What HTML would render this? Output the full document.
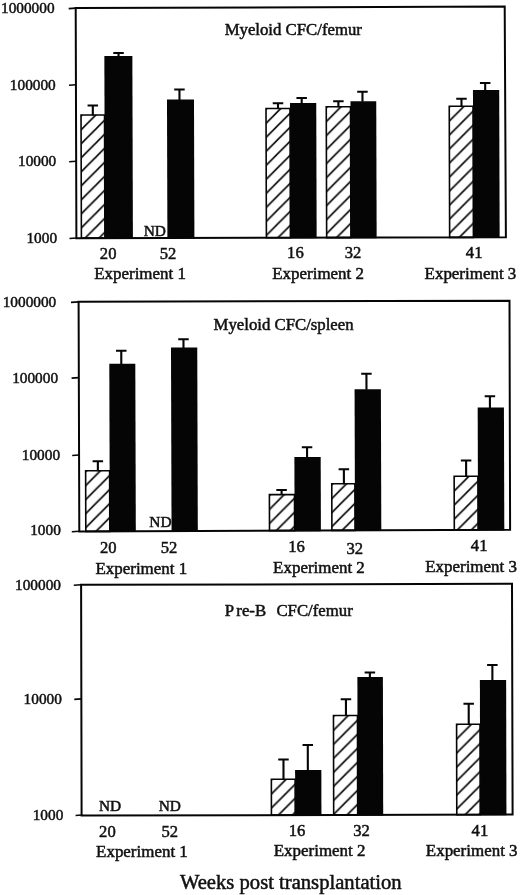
<!DOCTYPE html>
<html><head><meta charset="utf-8"><title>Figure</title>
<style>html,body{margin:0;padding:0;background:#fff;}svg{display:block}text{font-family:"Liberation Serif",serif;fill:#111;stroke:#111;stroke-width:0.5px;}svg{filter:grayscale(1)}</style>
</head><body>
<svg width="520" height="895" viewBox="0 0 520 895">
<rect width="520" height="895" fill="#fff"/>
<g>
<defs>
<pattern id="h0" width="14" height="14" patternUnits="userSpaceOnUse" patternTransform="translate(81.00,115.80)"><rect width="14" height="14" fill="#fff"/><path d="M-2 16L16 -2M-9 9L9 -9M5 23L23 5" stroke="#050505" stroke-width="1.7" fill="none"/></pattern>
<pattern id="h1" width="14" height="14" patternUnits="userSpaceOnUse" patternTransform="translate(266.00,109.30)"><rect width="14" height="14" fill="#fff"/><path d="M-2 16L16 -2M-9 9L9 -9M5 23L23 5" stroke="#050505" stroke-width="1.7" fill="none"/></pattern>
<pattern id="h2" width="14" height="14" patternUnits="userSpaceOnUse" patternTransform="translate(326.25,107.55)"><rect width="14" height="14" fill="#fff"/><path d="M-2 16L16 -2M-9 9L9 -9M5 23L23 5" stroke="#050505" stroke-width="1.7" fill="none"/></pattern>
<pattern id="h3" width="14" height="14" patternUnits="userSpaceOnUse" patternTransform="translate(449.25,107.05)"><rect width="14" height="14" fill="#fff"/><path d="M-2 16L16 -2M-9 9L9 -9M5 23L23 5" stroke="#050505" stroke-width="1.7" fill="none"/></pattern>
<pattern id="h4" width="14" height="14" patternUnits="userSpaceOnUse" patternTransform="translate(85.50,471.55)"><rect width="14" height="14" fill="#fff"/><path d="M-2 16L16 -2M-9 9L9 -9M5 23L23 5" stroke="#050505" stroke-width="1.7" fill="none"/></pattern>
<pattern id="h5" width="14" height="14" patternUnits="userSpaceOnUse" patternTransform="translate(269.20,495.40)"><rect width="14" height="14" fill="#fff"/><path d="M-2 16L16 -2M-9 9L9 -9M5 23L23 5" stroke="#050505" stroke-width="1.7" fill="none"/></pattern>
<pattern id="h6" width="14" height="14" patternUnits="userSpaceOnUse" patternTransform="translate(331.60,484.55)"><rect width="14" height="14" fill="#fff"/><path d="M-2 16L16 -2M-9 9L9 -9M5 23L23 5" stroke="#050505" stroke-width="1.7" fill="none"/></pattern>
<pattern id="h7" width="14" height="14" patternUnits="userSpaceOnUse" patternTransform="translate(454.00,477.05)"><rect width="14" height="14" fill="#fff"/><path d="M-2 16L16 -2M-9 9L9 -9M5 23L23 5" stroke="#050505" stroke-width="1.7" fill="none"/></pattern>
<pattern id="h8" width="14" height="14" patternUnits="userSpaceOnUse" patternTransform="translate(271.25,780.05)"><rect width="14" height="14" fill="#fff"/><path d="M-2 16L16 -2M-9 9L9 -9M5 23L23 5" stroke="#050505" stroke-width="1.7" fill="none"/></pattern>
<pattern id="h9" width="14" height="14" patternUnits="userSpaceOnUse" patternTransform="translate(333.50,716.30)"><rect width="14" height="14" fill="#fff"/><path d="M-2 16L16 -2M-9 9L9 -9M5 23L23 5" stroke="#050505" stroke-width="1.7" fill="none"/></pattern>
<pattern id="h10" width="14" height="14" patternUnits="userSpaceOnUse" patternTransform="translate(456.60,725.05)"><rect width="14" height="14" fill="#fff"/><path d="M-2 16L16 -2M-9 9L9 -9M5 23L23 5" stroke="#050505" stroke-width="1.7" fill="none"/></pattern>
</defs>
<g transform="matrix(1 0 0.00304 1 -0.319 0)">
<rect x="81.00" y="115.00" width="23.50" height="123.17" fill="url(#h0)" stroke="#050505" stroke-width="1.6"/>
<path d="M87.55 105.50H98.05M92.80 105.50V115.50" stroke="#050505" stroke-width="2.1" fill="none"/>
<rect x="104.50" y="56.00" width="28.00" height="182.71" fill="#050505"/>
<path d="M113.45 53.00H123.95M118.70 53.00V56.50" stroke="#050505" stroke-width="2.1" fill="none"/>
<rect x="167.00" y="99.50" width="27.00" height="139.08" fill="#050505"/>
<path d="M174.25 89.50H184.75M179.50 89.50V100.00" stroke="#050505" stroke-width="2.1" fill="none"/>
<rect x="266.00" y="108.50" width="24.00" height="129.28" fill="url(#h1)" stroke="#050505" stroke-width="1.6"/>
<path d="M272.75 103.30H283.25M278.00 103.30V109.00" stroke="#050505" stroke-width="2.1" fill="none"/>
<rect x="290.00" y="103.00" width="26.25" height="135.32" fill="#050505"/>
<path d="M296.45 98.00H306.95M301.70 98.00V103.50" stroke="#050505" stroke-width="2.1" fill="none"/>
<rect x="326.25" y="106.75" width="24.25" height="130.90" fill="url(#h2)" stroke="#050505" stroke-width="1.6"/>
<path d="M333.15 101.25H343.65M338.40 101.25V107.25" stroke="#050505" stroke-width="2.1" fill="none"/>
<rect x="350.50" y="101.25" width="25.75" height="136.95" fill="#050505"/>
<path d="M357.25 91.75H367.75M362.50 91.75V101.75" stroke="#050505" stroke-width="2.1" fill="none"/>
<rect x="449.25" y="106.25" width="23.75" height="131.14" fill="url(#h3)" stroke="#050505" stroke-width="1.6"/>
<path d="M456.25 98.75H466.75M461.50 98.75V106.75" stroke="#050505" stroke-width="2.1" fill="none"/>
<rect x="473.00" y="90.00" width="26.25" height="147.94" fill="#050505"/>
<path d="M480.00 83.00H490.50M485.25 83.00V90.50" stroke="#050505" stroke-width="2.1" fill="none"/>
</g>
<path d="M75.70 8.10L504.70 6.60L505.90 237.30L76.40 238.20Z" fill="none" stroke="#050505" stroke-width="2.0" stroke-linejoin="miter"/>
<line x1="68.70" y1="8.60" x2="75.70" y2="8.10" stroke="#050505" stroke-width="1.6"/>
<line x1="69.00" y1="85.30" x2="75.93" y2="84.80" stroke="#050505" stroke-width="1.6"/>
<line x1="69.20" y1="161.70" x2="76.17" y2="161.20" stroke="#050505" stroke-width="1.6"/>
<line x1="69.50" y1="238.50" x2="76.40" y2="238.00" stroke="#050505" stroke-width="1.6"/>
<g transform="matrix(1 0 0.00305 1 -1.310 0)">
<rect x="85.50" y="470.75" width="24.00" height="60.67" fill="url(#h4)" stroke="#050505" stroke-width="1.6"/>
<path d="M92.50 461.25H103.00M97.75 461.25V471.25" stroke="#050505" stroke-width="2.1" fill="none"/>
<rect x="109.50" y="363.75" width="26.00" height="168.17" fill="#050505"/>
<path d="M116.25 350.75H126.75M121.50 350.75V364.25" stroke="#050505" stroke-width="2.1" fill="none"/>
<rect x="171.25" y="347.50" width="26.25" height="184.16" fill="#050505"/>
<path d="M178.50 339.25H189.00M183.75 339.25V348.00" stroke="#050505" stroke-width="2.1" fill="none"/>
<rect x="269.20" y="494.60" width="25.10" height="36.05" fill="url(#h5)" stroke="#050505" stroke-width="1.6"/>
<path d="M276.15 490.00H286.65M281.40 490.00V495.10" stroke="#050505" stroke-width="2.1" fill="none"/>
<rect x="294.30" y="456.90" width="26.30" height="74.25" fill="#050505"/>
<path d="M301.75 447.25H312.25M307.00 447.25V457.40" stroke="#050505" stroke-width="2.1" fill="none"/>
<rect x="331.60" y="483.75" width="23.10" height="46.65" fill="url(#h6)" stroke="#050505" stroke-width="1.6"/>
<path d="M338.50 469.25H349.00M343.75 469.25V484.25" stroke="#050505" stroke-width="2.1" fill="none"/>
<rect x="354.70" y="389.25" width="26.30" height="141.64" fill="#050505"/>
<path d="M361.35 373.75H371.85M366.60 373.75V389.75" stroke="#050505" stroke-width="2.1" fill="none"/>
<rect x="454.00" y="476.25" width="23.75" height="53.63" fill="url(#h7)" stroke="#050505" stroke-width="1.6"/>
<path d="M460.75 460.50H471.25M466.00 460.50V476.75" stroke="#050505" stroke-width="2.1" fill="none"/>
<rect x="477.75" y="407.50" width="26.25" height="122.88" fill="#050505"/>
<path d="M484.75 396.25H495.25M490.00 396.25V408.00" stroke="#050505" stroke-width="2.1" fill="none"/>
</g>
<path d="M78.60 301.80L509.50 300.70L510.10 529.70L79.30 531.50Z" fill="none" stroke="#050505" stroke-width="2.0" stroke-linejoin="miter"/>
<line x1="71.00" y1="302.40" x2="78.60" y2="301.90" stroke="#050505" stroke-width="1.6"/>
<line x1="71.60" y1="378.10" x2="78.83" y2="377.60" stroke="#050505" stroke-width="1.6"/>
<line x1="72.20" y1="455.50" x2="79.07" y2="455.00" stroke="#050505" stroke-width="1.6"/>
<line x1="71.80" y1="531.80" x2="79.30" y2="531.30" stroke="#050505" stroke-width="1.6"/>
<g transform="matrix(1 0 0.00217 1 -1.582 0)">
<rect x="271.25" y="779.25" width="23.75" height="35.83" fill="url(#h8)" stroke="#050505" stroke-width="1.6"/>
<path d="M278.15 759.50H288.65M283.40 759.50V779.75" stroke="#050505" stroke-width="2.1" fill="none"/>
<rect x="295.00" y="770.00" width="26.25" height="45.63" fill="#050505"/>
<path d="M302.50 745.00H313.00M307.75 745.00V770.50" stroke="#050505" stroke-width="2.1" fill="none"/>
<rect x="333.50" y="715.50" width="24.00" height="99.45" fill="url(#h9)" stroke="#050505" stroke-width="1.6"/>
<path d="M340.75 699.25H351.25M346.00 699.25V716.00" stroke="#050505" stroke-width="2.1" fill="none"/>
<rect x="357.50" y="677.00" width="25.50" height="138.50" fill="#050505"/>
<path d="M364.75 672.50H375.25M370.00 672.50V677.50" stroke="#050505" stroke-width="2.1" fill="none"/>
<rect x="456.60" y="724.25" width="23.40" height="90.44" fill="url(#h10)" stroke="#050505" stroke-width="1.6"/>
<path d="M463.50 703.75H474.00M468.75 703.75V724.75" stroke="#050505" stroke-width="2.1" fill="none"/>
<rect x="480.00" y="680.00" width="26.25" height="135.24" fill="#050505"/>
<path d="M487.25 665.00H497.75M492.50 665.00V680.50" stroke="#050505" stroke-width="2.1" fill="none"/>
</g>
<path d="M81.10 584.80L512.00 583.80L512.60 814.60L81.60 815.50Z" fill="none" stroke="#050505" stroke-width="2.0" stroke-linejoin="miter"/>
<line x1="73.80" y1="585.30" x2="81.10" y2="584.80" stroke="#050505" stroke-width="1.6"/>
<line x1="74.30" y1="699.40" x2="81.35" y2="698.90" stroke="#050505" stroke-width="1.6"/>
<line x1="75.60" y1="815.50" x2="81.60" y2="815.00" stroke="#050505" stroke-width="1.6"/>
<text transform="translate(1.01,13.13) scale(1.0,1)" font-size="15.30">1000000</text>
<text transform="translate(9.86,89.63) scale(1.0,1)" font-size="15.30">100000</text>
<text transform="translate(18.01,166.03) scale(1.0,1)" font-size="15.30">10000</text>
<text transform="translate(26.46,242.73) scale(1.0,1)" font-size="15.30">1000</text>
<text transform="translate(2.71,306.83) scale(1.0,1)" font-size="15.30">1000000</text>
<text transform="translate(12.16,382.53) scale(1.0,1)" font-size="15.30">100000</text>
<text transform="translate(21.81,459.83) scale(1.0,1)" font-size="15.30">10000</text>
<text transform="translate(30.21,535.33) scale(1.0,1)" font-size="15.30">1000</text>
<text transform="translate(15.06,589.53) scale(1.0,1)" font-size="15.30">100000</text>
<text transform="translate(23.61,703.73) scale(1.0,1)" font-size="15.30">10000</text>
<text transform="translate(32.71,819.83) scale(1.0,1)" font-size="15.30">1000</text>
<text transform="translate(143.72,236.20) scale(1.0000,1)" font-size="15.40">ND</text>
<text transform="translate(99.87,258.70) scale(1.0000,1)" font-size="16.60">20</text>
<text transform="translate(159.70,258.70) scale(1.0000,1)" font-size="16.60">52</text>
<text transform="translate(287.08,258.20) scale(1.0000,1)" font-size="16.60">16</text>
<text transform="translate(344.66,258.20) scale(1.0000,1)" font-size="16.60">32</text>
<text transform="translate(465.87,257.70) scale(1.0000,1)" font-size="16.60">41</text>
<text transform="translate(94.20,279.45) scale(1.0000,1)" font-size="16.95">Experiment 1</text>
<text transform="translate(272.24,279.45) scale(1.0000,1)" font-size="16.95">Experiment 2</text>
<text transform="translate(424.57,279.45) scale(1.0000,1)" font-size="16.95">Experiment 3</text>
<text transform="translate(224.63,34.70) scale(1.0000,1)" font-size="16.75">Myeloid CFC/femur</text>
<text transform="translate(149.35,526.95) scale(1.0000,1)" font-size="15.40">ND</text>
<text transform="translate(99.99,552.70) scale(1.0000,1)" font-size="16.60">20</text>
<text transform="translate(160.82,552.70) scale(1.0000,1)" font-size="16.60">52</text>
<text transform="translate(288.20,551.95) scale(1.0000,1)" font-size="16.60">16</text>
<text transform="translate(346.53,553.70) scale(1.0000,1)" font-size="16.60">32</text>
<text transform="translate(470.87,550.70) scale(1.0000,1)" font-size="16.60">41</text>
<text transform="translate(95.45,573.70) scale(1.0000,1)" font-size="16.95">Experiment 1</text>
<text transform="translate(273.11,573.20) scale(1.0000,1)" font-size="16.95">Experiment 2</text>
<text transform="translate(425.19,571.95) scale(1.0000,1)" font-size="16.95">Experiment 3</text>
<text transform="translate(213.54,330.20) scale(1.0000,1)" font-size="16.75">Myeloid CFC/spleen</text>
<text transform="translate(98.97,810.70) scale(1.0000,1)" font-size="15.40">ND</text>
<text transform="translate(158.72,810.70) scale(1.0000,1)" font-size="15.40">ND</text>
<text transform="translate(99.12,836.95) scale(1.0000,1)" font-size="16.60">20</text>
<text transform="translate(161.45,836.95) scale(1.0000,1)" font-size="16.60">52</text>
<text transform="translate(288.70,835.70) scale(1.0000,1)" font-size="16.60">16</text>
<text transform="translate(353.28,835.70) scale(1.0000,1)" font-size="16.60">32</text>
<text transform="translate(471.62,835.70) scale(1.0000,1)" font-size="16.60">41</text>
<text transform="translate(96.07,857.45) scale(1.0000,1)" font-size="16.95">Experiment 1</text>
<text transform="translate(273.74,856.45) scale(1.0000,1)" font-size="16.95">Experiment 2</text>
<text transform="translate(425.82,856.45) scale(1.0000,1)" font-size="16.95">Experiment 3</text>
<text transform="translate(224.73,615.90) scale(1.0000,1)" font-size="16.75">P</text>
<text transform="translate(236.34,615.90) scale(1.0000,1)" font-size="16.75">re-B</text>
<text transform="translate(276.44,615.90) scale(1.0000,1)" font-size="16.75">CFC/femur</text>
<text transform="translate(179.90,889.10) scale(1.0000,1)" font-size="20.64">Weeks post transplantation</text>
</g></svg></body></html>
